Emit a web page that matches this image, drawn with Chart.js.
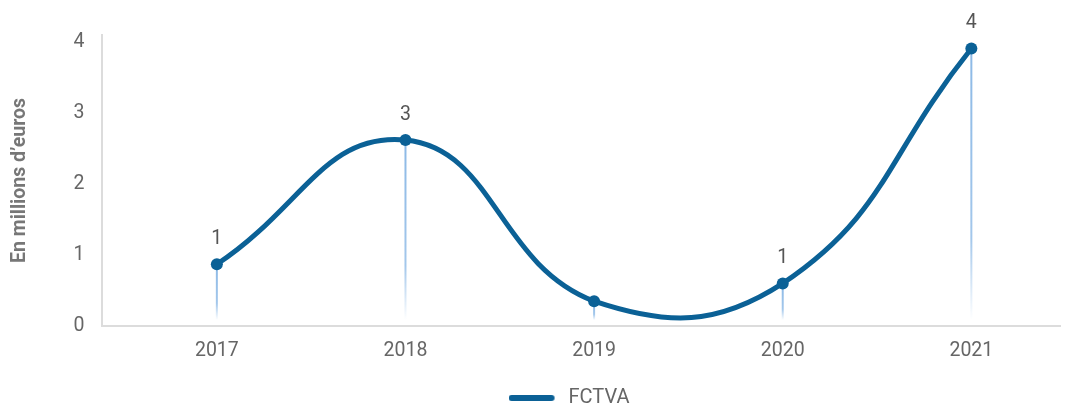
<!DOCTYPE html>
<html>
<head>
<meta charset="utf-8">
<script src="https://cdn.jsdelivr.net/npm/chart.js@4"></script>
<style>
  html, body { margin: 0; padding: 0; background: #fff; }
  #wrap { width: 1066px; height: 408px; }
</style>
</head>
<body>
<div id="wrap"><canvas id="fctvaChart"></canvas></div>
<script>
// Data
const years = ['2017', '2018', '2019', '2020', '2021'];
const fctva = [0.87, 2.62, 0.35, 0.6, 3.91];
const yTicks = [0, 1, 2, 3, 4];

const lineColor = '#0b6196';
const fontFamily = 'Roboto';

// legend swatch: thick rounded line, with some room before the text
const swatch = document.createElement('canvas');
swatch.width = 50;
swatch.height = 8;
const sctx = swatch.getContext('2d');
sctx.strokeStyle = lineColor;
sctx.lineWidth = 6;
sctx.lineCap = 'round';
sctx.beginPath();
sctx.moveTo(3, 4);
sctx.lineTo(43, 4);
sctx.stroke();

// light blue drop lines under each point, fading towards the axis
const dropLines = {
    id: 'dropLines',
    beforeDatasetsDraw(chart) {
        const { ctx, scales } = chart;
        const bottom = scales.y.getPixelForValue(0) - 6;
        chart.getDatasetMeta(0).data.forEach(pt => {
            const g = ctx.createLinearGradient(0, pt.y, 0, bottom);
            g.addColorStop(0, 'rgba(140,185,230,1)');
            g.addColorStop(0.7, 'rgba(140,185,230,0.8)');
            g.addColorStop(1, 'rgba(140,185,230,0)');
            ctx.save();
            ctx.strokeStyle = g;
            ctx.lineWidth = 2;
            ctx.beginPath();
            ctx.moveTo(pt.x, pt.y);
            ctx.lineTo(pt.x, bottom);
            ctx.stroke();
            ctx.restore();
        });
    }
};

// rounded value labels above points (zero labels are skipped)
const valueLabels = {
    id: 'valueLabels',
    afterDatasetsDraw(chart) {
        const { ctx } = chart;
        ctx.save();
        ctx.font = '19.5px ' + fontFamily;
        ctx.fillStyle = '#555';
        ctx.textAlign = 'center';
        ctx.textBaseline = 'middle';
        chart.getDatasetMeta(0).data.forEach((pt, i) => {
            const v = Math.round(fctva[i]);
            if (v === 0) return;
            ctx.fillText(String(v), pt.x, pt.y - 25);
        });
        ctx.restore();
    }
};

// the legend sits a bit right of the canvas centre and low in the canvas
const legendShift = {
    id: 'legendShift',
    afterLayout(chart) {
        chart.legend.left += 37;
        chart.legend.right += 37;
        chart.legend.top += 10;
        chart.legend.bottom += 10;
    }
};

const ctx = document.getElementById('fctvaChart');
new Chart(ctx, {
    type: 'line',
    data: {
        datasets: [{
            label: 'FCTVA',
            data: fctva.map((v, i) => ({ x: i, y: v })),
            borderColor: lineColor,
            backgroundColor: lineColor,
            borderWidth: 5,
            borderCapStyle: 'round',
            pointRadius: 6,
            pointHoverRadius: 6,
            pointBackgroundColor: lineColor,
            pointBorderWidth: 0,
            tension: 0.45,
            fill: false
        }]
    },
    options: {
        responsive: true,
        maintainAspectRatio: false,
        animation: false,
        layout: { padding: { top: 35, right: 2, left: 0, bottom: 0 } },
        scales: {
            x: {
                type: 'linear',
                min: -0.607,
                max: 4.47,
                grid: { display: false, drawTicks: false },
                border: { color: '#dcdcdc', width: 2 },
                afterBuildTicks(scale) {
                    scale.ticks = years.map((y, i) => ({ value: i }));
                },
                afterFit(scale) {
                    scale.height = 50;
                },
                ticks: {
                    padding: 13,
                    color: '#666',
                    font: { family: fontFamily, size: 19.5 },
                    callback: (v) => years[v]
                }
            },
            y: {
                min: 0,
                max: 4.1,
                grid: { display: false, drawTicks: false },
                border: { color: '#dcdcdc', width: 2 },
                afterBuildTicks(scale) {
                    scale.ticks = yTicks.map(v => ({ value: v }));
                },
                ticks: {
                    padding: 18,
                    color: '#666',
                    font: { family: fontFamily, size: 19.5 }
                },
                title: {
                    display: true,
                    text: 'En millions d\u2019euros',
                    color: '#777',
                    font: { family: fontFamily, size: 19.5, weight: 'bold' },
                    padding: { top: 8, bottom: 24 }
                }
            }
        },
        plugins: {
            legend: {
                position: 'bottom',
                labels: {
                    usePointStyle: true,
                    pointStyle: swatch,
                    pointStyleWidth: 50,
                    boxHeight: 8,
                    color: '#666',
                    padding: 2,
                    font: { family: fontFamily, size: 20 }
                }
            },
            tooltip: { enabled: false }
        }
    },
    plugins: [dropLines, valueLabels, legendShift]
});
</script>
</body>
</html>
